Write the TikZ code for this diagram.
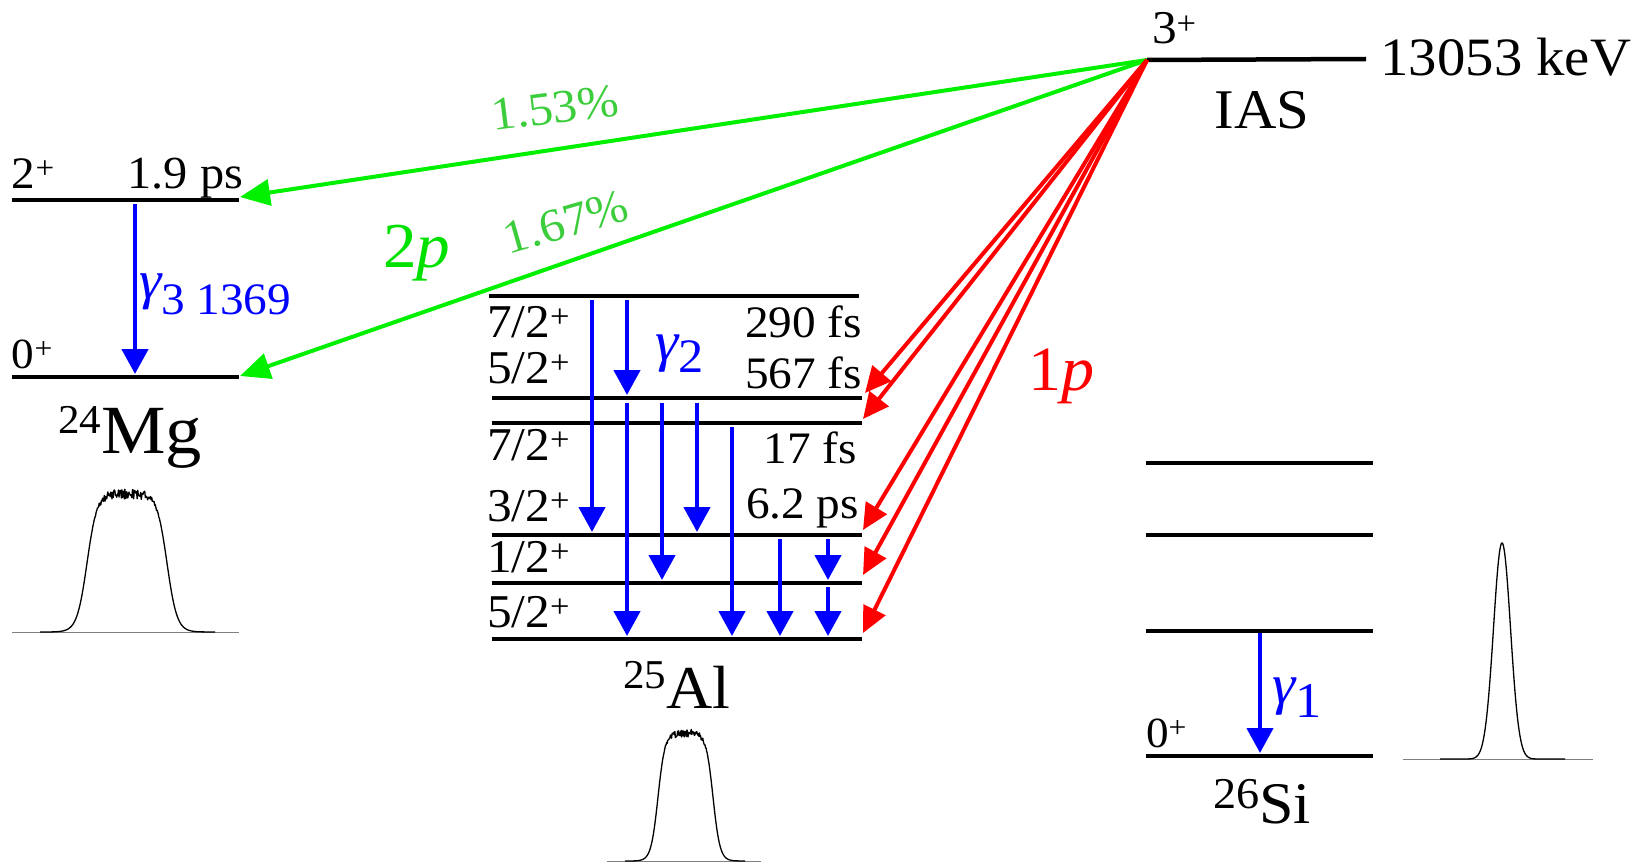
\documentclass[tikz,border=0pt]{standalone}
\usepackage{fontspec}
\setmainfont[FakeStretch=1.05]{Liberation Serif}
\usetikzlibrary{arrows.meta}
\newcommand\fsz[1]{\fontsize{#1}{#1}\selectfont}
\definecolor{gA}{RGB}{0,240,0}
\definecolor{gT}{RGB}{60,205,60}
\definecolor{gP}{RGB}{0,225,0}
\definecolor{bl}{RGB}{0,0,255}
\definecolor{rd}{RGB}{255,0,0}
\begin{document}
\begin{tikzpicture}[x=1pt,y=-1pt,
 level/.style={line width=4.5pt},
 gam/.style={bl,line width=4.5pt,-{Triangle[length=25pt,width=26pt]}},
 redarr/.style={rd,line width=4pt,-{Triangle[length=26pt,width=24pt]}},
 grarr/.style={gA,line width=4pt,-{Triangle[length=30pt,width=26pt]}},
 spec/.style={line width=1.3pt,black,line join=round},
 basel/.style={gray,line width=1pt},
 lbl/.style={inner sep=0pt,outer sep=0pt},
 declare function={sg(\u)=1/(1+exp(-max(-9,min(9,\u))));}
]
\useasboundingbox (0,0) rectangle (1636,864);
\pgfmathsetseed{7}

% ---------- coordinates ----------
\coordinate (ias) at (1147,60);
\coordinate (iasR) at (1366,59);
\coordinate (mg2L) at (12,200); \coordinate (mg2R) at (239,200);
\coordinate (mg0L) at (12,377); \coordinate (mg0R) at (239,377);
\foreach \n/\y/\l/\r in {a1/296/489/859,a2/398/492/862,a3/423/492/862,a4/535/492/862,a5/583/492/862,a6/639/492/862}{
  \coordinate (\n L) at (\l,\y); \coordinate (\n R) at (\r,\y);}
\foreach \n/\y in {s1/463,s2/535,s3/631,s4/756}{
  \coordinate (\n L) at (1146,\y); \coordinate (\n R) at (1373,\y);}

% ---------- level lines ----------
\draw[level] (ias) -- (iasR);
\draw[level] (mg2L) -- (mg2R);
\draw[level] (mg0L) -- (mg0R);
\foreach \n in {a1,a2,a3,a4,a5,a6,s1,s2,s3,s4} \draw[level] (\n L) -- (\n R);

% ---------- gamma arrows ----------
\coordinate (g3s) at (135,204); \coordinate (g3e) at (135,374);
\draw[gam] (g3s) -- (g3e);
\coordinate (g1s) at (1260,633); \coordinate (g1e) at (1260,753);
\draw[gam] (g1s) -- (g1e);
\foreach \i/\x/\ys/\ye in {1/592/300/532,2/627/300/395,3/627/403/636,4/662/403/580,5/697/403/532,6/732/427/636,7/780/539/636,8/828/539/580,9/828/587/636}{
  \coordinate (b\i s) at (\x,\ys); \coordinate (b\i e) at (\x,\ye);
  \draw[gam] (b\i s) -- (b\i e);}

% ---------- proton arrows ----------
\coordinate (gt1) at (240,197); \coordinate (gt2) at (240,376);
\draw[grarr] (ias) -- (gt1);
\draw[grarr] (ias) -- (gt2);
\foreach \i/\x/\y in {1/865/393,2/863/419,3/863/530,4/863/575,5/863/633}{
  \coordinate (rt\i) at (\x,\y);
  \draw[redarr] (ias) -- (rt\i);}

% ---------- labels: IAS ----------
\node[lbl,anchor=base west] (l3p) at (1152,44) {\fsz{47}3\textsuperscript{+}};
\node[lbl,anchor=base east] (lE) at (1631,76) {\fsz{54}13053 keV};
\node[lbl,anchor=base] (lIAS) at (1262,129) {\fsz{56}IAS};

% ---------- labels: Mg ----------
\node[lbl,anchor=base west] (lm2) at (12,188) {\fsz{45}2\textsuperscript{+}};
\node[lbl,anchor=base east] (lm2t) at (243,188) {\fsz{46}1.9 ps};
\node[lbl,anchor=base west] (lm0) at (12,368) {\fsz{43}0\textsuperscript{+}};
\node[lbl,anchor=base west,bl] (lg3) at (139,298) {\fsz{54}\itshape γ\raisebox{-16pt}{\upshape\fsz{45}3 1369}};
\node[lbl,anchor=base] (lMg) at (130,453) {\raisebox{20pt}{\fsz{41}24}\fsz{69}Mg};

% ---------- labels: Al ----------
\foreach \t/\y in {7/337,5/383,7/460,3/521,1/572,5/627}
  \node[lbl,anchor=base west] at (487,\y) {\fsz{47}\t/2\textsuperscript{+}};
\node[lbl,anchor=base east] (la1) at (862,337) {\fsz{45}290 fs};
\node[lbl,anchor=base east] (la2) at (862,388) {\fsz{45}567 fs};
\node[lbl,anchor=base east] (la3) at (857,463) {\fsz{45}17 fs};
\node[lbl,anchor=base east] (la4) at (859,518) {\fsz{45}6.2 ps};
\node[lbl,anchor=base west,bl] (lg2) at (655,360) {\fsz{56}\itshape γ\raisebox{-12pt}{\upshape\fsz{48}2}};
\node[lbl,anchor=base] (lAl) at (677,708) {\raisebox{20pt}{\fsz{41}25}\fsz{61}Al};

% ---------- labels: Si ----------
\node[lbl,anchor=base west] (ls0) at (1146,747) {\fsz{43}0\textsuperscript{+}};
\node[lbl,anchor=base west,bl] (lg1) at (1272,703) {\fsz{56}\itshape γ\raisebox{-14pt}{\upshape\fsz{50}1}};
\node[lbl,anchor=base] (lSi) at (1262,823) {\raisebox{15pt}{\fsz{44}26}\fsz{59}Si};

% ---------- proton labels ----------
\node[lbl,gT,rotate=7] (p153) at (555,108) {\fsz{47}1.53\%};
\node[lbl,gT,rotate=16] (p167) at (566,222) {\fsz{47}1.67\%};
\node[lbl,anchor=base west,gP] (l2p) at (383,267) {\fsz{64}2{\itshape p}};
\node[lbl,anchor=base west,rd] (l1p) at (1028,390) {\fsz{63}1{\itshape p}};

% ---------- spectra ----------
\coordinate (mgbL) at (12,632); \coordinate (mgbR) at (239,632);
\draw[basel] (mgbL) -- (mgbR);
\draw[spec] plot[domain=40:215,samples=300] (\x,{632-138*(sg((\x-87)/5)-sg((\x-167)/5)) - 5*rand*(sg((\x-87)/5)-sg((\x-167)/5))^10});
\coordinate (albL) at (607,861); \coordinate (albR) at (761,861);
\draw[basel] (albL) -- (albR);
\draw[spec] plot[domain=625:745,samples=220] (\x,{861-128*(sg((\x-658)/3.5)-sg((\x-713)/3.5)) - 4*rand*(sg((\x-658)/3.5)-sg((\x-713)/3.5))^10});
\coordinate (sibL) at (1403,759); \coordinate (sibR) at (1593,759);
\draw[basel] (sibL) -- (sibR);
\draw[spec] plot[domain=1440:1565,samples=250,smooth] (\x,{759-216*exp(-min(30,(\x-1502)^2/144.5))});
\end{tikzpicture}
\end{document}
